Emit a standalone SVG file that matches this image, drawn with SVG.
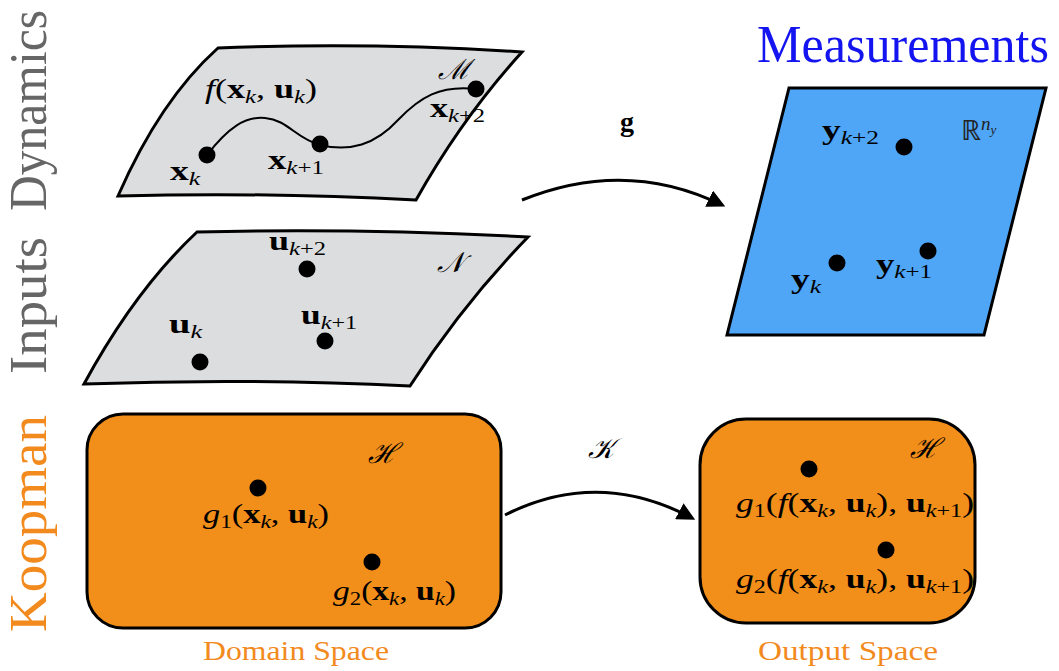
<svg xmlns="http://www.w3.org/2000/svg" width="1059" height="671" viewBox="0 0 1059 671">
<defs>
<style>
text{font-family:"Liberation Serif","Times New Roman",serif;fill:#000}
.side{font-size:52px}
.m{font-size:28px}
.i{font-style:italic}
.b{font-weight:bold}
.s{font-size:19px;font-style:italic}
.sn{font-size:19px;font-style:normal}
.cal{font-size:28px;font-style:italic}
.surf{fill:#DCDDDF;stroke:#000;stroke-width:3;stroke-linejoin:miter}
.dot{fill:#000}
.conn{fill:none;stroke:#000;stroke-width:3}
.space{font-size:28px;fill:#F28A1E}
</style>
<marker id="ah" viewBox="0 0 10 10" refX="8" refY="5" markerWidth="6" markerHeight="6" markerUnits="strokeWidth" orient="auto">
<path d="M0,0 L10,5 L0,10 Z" fill="#000"/>
</marker>
</defs>
<rect width="1059" height="671" fill="#fff"/>

<!-- side labels -->
<text class="side" style="fill:#666" transform="translate(46,211) rotate(-90)" textLength="201" lengthAdjust="spacingAndGlyphs">Dynamics</text>
<text class="side" style="fill:#666" transform="translate(46,374) rotate(-90)" textLength="137" lengthAdjust="spacingAndGlyphs">Inputs</text>
<text class="side" style="fill:#F28A1E" transform="translate(46,632) rotate(-90)" textLength="217" lengthAdjust="spacingAndGlyphs">Koopman</text>
<text x="757" y="62" style="fill:#1414F0;font-size:52px" textLength="292" lengthAdjust="spacingAndGlyphs">Measurements</text>

<!-- Dynamics manifold -->
<g id="dynamics">
<path class="surf" d="M218,48 Q370,42 522,52 Q462,118 416,200 Q265,192 118,196 Q160,100 218,48 Z"/>
<path d="M207,155 C228,128 245,116 265,118 C288,120 295,138 320,145 C350,152 375,145 398,120 C420,97 440,85 476,89" fill="none" stroke="#000" stroke-width="2"/>
<circle class="dot" cx="207" cy="155" r="8.5"/>
<circle class="dot" cx="320" cy="144" r="8.5"/>
<circle class="dot" cx="476" cy="89" r="8.5"/>
<text class="m" x="205" y="98" textLength="112" lengthAdjust="spacingAndGlyphs"><tspan class="i">f</tspan>(<tspan class="b">x</tspan><tspan class="s" dy="5">k</tspan><tspan dy="-5">, </tspan><tspan class="b">u</tspan><tspan class="s" dy="5">k</tspan><tspan dy="-5">)</tspan></text>
<text class="cal" x="438" y="79">ℳ</text>
<text class="m" x="430" y="117" textLength="55" lengthAdjust="spacingAndGlyphs"><tspan class="b">x</tspan><tspan class="s" dy="5">k<tspan class="sn">+2</tspan></tspan></text>
<text class="m" x="170" y="180" textLength="30" lengthAdjust="spacingAndGlyphs"><tspan class="b">x</tspan><tspan class="s" dy="5">k</tspan></text>
<text class="m" x="268" y="169" textLength="56" lengthAdjust="spacingAndGlyphs"><tspan class="b">x</tspan><tspan class="s" dy="5">k<tspan class="sn">+1</tspan></tspan></text>
</g>

<!-- Inputs manifold -->
<g id="inputs">
<path class="surf" d="M197,232 Q360,228 528,237 Q462,305 410,386 Q250,378 84,384 Q135,290 197,232 Z"/>
<circle class="dot" cx="307" cy="269" r="8.5"/>
<circle class="dot" cx="325" cy="341" r="8.5"/>
<circle class="dot" cx="200" cy="362" r="8.5"/>
<text class="m" x="269" y="250" textLength="57" lengthAdjust="spacingAndGlyphs"><tspan class="b">u</tspan><tspan class="s" dy="5">k<tspan class="sn">+2</tspan></tspan></text>
<text class="m" x="301" y="324" textLength="56" lengthAdjust="spacingAndGlyphs"><tspan class="b">u</tspan><tspan class="s" dy="5">k<tspan class="sn">+1</tspan></tspan></text>
<text class="m" x="169" y="333" textLength="33" lengthAdjust="spacingAndGlyphs"><tspan class="b">u</tspan><tspan class="s" dy="5">k</tspan></text>
<text class="cal" x="437" y="272">𝒩</text>
</g>

<!-- Measurements -->
<g id="measurements">
<path d="M789,88 L1046,88 L984,335 L727,335 Z" fill="#4FA5F6" stroke="#000" stroke-width="3"/>
<circle class="dot" cx="904" cy="147" r="8.5"/>
<circle class="dot" cx="928" cy="251" r="8.5"/>
<circle class="dot" cx="837" cy="263" r="8.5"/>
<text class="m" x="822" y="139" textLength="57" lengthAdjust="spacingAndGlyphs"><tspan class="b">y</tspan><tspan class="s" dy="5">k<tspan class="sn">+2</tspan></tspan></text>
<text class="m" x="876" y="273" textLength="56" lengthAdjust="spacingAndGlyphs"><tspan class="b">y</tspan><tspan class="s" dy="5">k<tspan class="sn">+1</tspan></tspan></text>
<text class="m" x="791" y="288" textLength="30" lengthAdjust="spacingAndGlyphs"><tspan class="b">y</tspan><tspan class="s" dy="5">k</tspan></text>
<text class="m" x="961" y="140" style="fill:#222">ℝ<tspan class="s" dy="-10">n<tspan font-size="13px" dy="4">y</tspan></tspan></text>
</g>

<!-- Koopman domain -->
<g id="koopman-domain">
<rect x="87" y="414" width="414" height="214" rx="36" fill="#F28E1A" stroke="#000" stroke-width="3"/>
<text class="cal" x="368" y="463">ℋ</text>
<circle class="dot" cx="258" cy="488" r="8.5"/>
<circle class="dot" cx="372" cy="562" r="8.5"/>
<text class="m" x="203" y="523" textLength="126" lengthAdjust="spacingAndGlyphs"><tspan class="i">g</tspan><tspan class="sn" dy="5">1</tspan><tspan dy="-5">(</tspan><tspan class="b">x</tspan><tspan class="s" dy="5">k</tspan><tspan dy="-5">, </tspan><tspan class="b">u</tspan><tspan class="s" dy="5">k</tspan><tspan dy="-5">)</tspan></text>
<text class="m" x="333" y="600" textLength="123" lengthAdjust="spacingAndGlyphs"><tspan class="i">g</tspan><tspan class="sn" dy="5">2</tspan><tspan dy="-5">(</tspan><tspan class="b">x</tspan><tspan class="s" dy="5">k</tspan><tspan dy="-5">, </tspan><tspan class="b">u</tspan><tspan class="s" dy="5">k</tspan><tspan dy="-5">)</tspan></text>
<text class="space" x="296" y="660" text-anchor="middle" textLength="186" lengthAdjust="spacingAndGlyphs">Domain Space</text>
</g>

<!-- Koopman output -->
<g id="koopman-output">
<rect x="700" y="419" width="275" height="204" rx="46" fill="#F28E1A" stroke="#000" stroke-width="3"/>
<text class="cal" x="910" y="458">ℋ</text>
<circle class="dot" cx="809" cy="469" r="8.5"/>
<circle class="dot" cx="886" cy="550" r="8.5"/>
<text class="m" x="736" y="512" textLength="238" lengthAdjust="spacingAndGlyphs"><tspan class="i">g</tspan><tspan class="sn" dy="5">1</tspan><tspan dy="-5">(</tspan><tspan class="i">f</tspan>(<tspan class="b">x</tspan><tspan class="s" dy="5">k</tspan><tspan dy="-5">, </tspan><tspan class="b">u</tspan><tspan class="s" dy="5">k</tspan><tspan dy="-5">), </tspan><tspan class="b">u</tspan><tspan class="s" dy="5">k<tspan class="sn">+1</tspan></tspan><tspan dy="-5">)</tspan></text>
<text class="m" x="736" y="588" textLength="238" lengthAdjust="spacingAndGlyphs"><tspan class="i">g</tspan><tspan class="sn" dy="5">2</tspan><tspan dy="-5">(</tspan><tspan class="i">f</tspan>(<tspan class="b">x</tspan><tspan class="s" dy="5">k</tspan><tspan dy="-5">, </tspan><tspan class="b">u</tspan><tspan class="s" dy="5">k</tspan><tspan dy="-5">), </tspan><tspan class="b">u</tspan><tspan class="s" dy="5">k<tspan class="sn">+1</tspan></tspan><tspan dy="-5">)</tspan></text>
<text class="space" x="848" y="660" text-anchor="middle" textLength="180" lengthAdjust="spacingAndGlyphs">Output Space</text>
</g>

<!-- connectors -->
<g id="connectors">
<path class="conn" d="M522,200 Q626,158 722,205" marker-end="url(#ah)"/>
<text class="m b" x="620" y="131">g</text>
<path class="conn" d="M505,515 Q598,468 692,518" marker-end="url(#ah)"/>
<text class="cal" x="588" y="458">𝒦</text>
</g>
</svg>
